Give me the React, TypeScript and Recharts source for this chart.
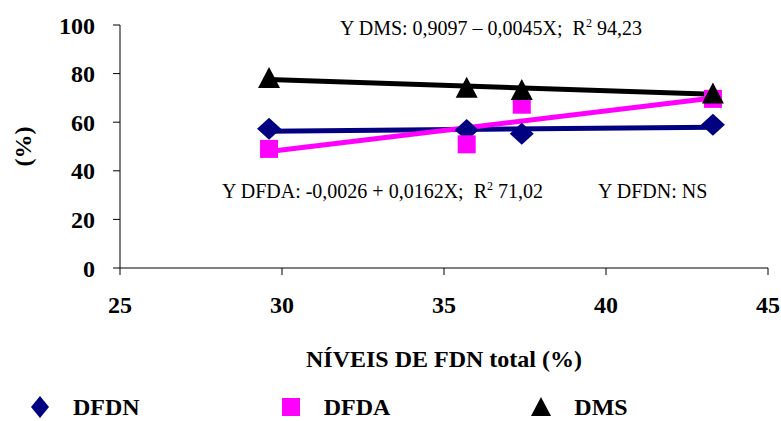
import React from "react";
import {
  ComposedChart,
  XAxis,
  YAxis,
  Line,
  Scatter,
  Legend,
} from "recharts";

// níveis de FDN total (%) dos tratamentos
const levels = [29.6, 35.7, 37.4, 43.3];
const dfdn = [57.3, 56.8, 55.2, 59.0];
const dfda = [49.0, 50.9, 67.2, 69.6];
const dms = [78.2, 74.2, 73.3, 71.8];

// extremos das retas de regressão
const trendX = [29.6, 43.3];
const dfdnTrend = [56.3, 57.9];
const dfdaTrend = [47.9, 70.0];
const dmsTrend = [77.6, 71.5];

const xTicks = [25, 30, 35, 40, 45];
const yTicks = [0, 20, 40, 60, 80, 100];

const NAVY = "#000080";
const PINK = "#FF00FF";
const BLACK = "#000000";
const FONT = "Liberation Serif";
const BIG = 24;

const pts = (ys: number[]) => levels.map((x, i) => ({ x, y: ys[i] }));
const trend = (ys: number[]) => trendX.map((x, i) => ({ x, y: ys[i] }));

function Diamond(p: any) {
  const { cx, cy } = p;
  return <polygon points={`${cx},${cy - 11} ${cx + 12},${cy} ${cx},${cy + 11} ${cx - 12},${cy}`} fill={NAVY} />;
}
function Square(p: any) {
  const { cx, cy } = p;
  return <rect x={cx - 9} y={cy - 9} width={18} height={18} fill={PINK} />;
}
function Triangle(p: any) {
  const { cx, cy } = p;
  return <polygon points={`${cx},${cy - 11} ${cx + 11},${cy + 10} ${cx - 11},${cy + 10}`} fill={BLACK} />;
}

const legendItems = [
  { name: "DFDN", color: NAVY, kind: "diamond" },
  { name: "DFDA", color: PINK, kind: "square" },
  { name: "DMS", color: BLACK, kind: "triangle" },
];

function LegendIcon({ kind, color }: { kind: string; color: string }) {
  return (
    <svg width={22} height={22} style={{ display: "block" }}>
      {kind === "diamond" && <polygon points="11,0 20,11 11,22 2,11" fill={color} />}
      {kind === "square" && <rect x={2} y={2} width={18} height={18} fill={color} />}
      {kind === "triangle" && <polygon points="11,1 21,20 1,20" fill={color} />}
    </svg>
  );
}

function CustomLegend() {
  return (
    <div style={{ display: "flex", fontFamily: FONT, fontSize: BIG, fontWeight: "bold", height: 30 }}>
      {legendItems.map((it) => (
        <div key={it.name} style={{ display: "flex", alignItems: "center", width: 262 }}>
          <LegendIcon kind={it.kind} color={it.color} />
          <span style={{ marginLeft: 22, lineHeight: "30px", whiteSpace: "nowrap" }}>{it.name}</span>
        </div>
      ))}
    </div>
  );
}

const boldText = { fill: "#000", fontFamily: FONT, fontWeight: "bold" };
const tickStyle = { fontSize: BIG, ...boldText };
const noteStyle = { fontSize: 20, fill: "#000", fontFamily: FONT, whiteSpace: "pre" as const };

export default function App() {
  return (
    <div style={{ position: "absolute", left: 0, top: 0, width: 781, height: 421, background: "#fff" }}>
      <ComposedChart width={781} height={421} margin={{ top: 25, right: 13, bottom: 13, left: 0 }}>
        <XAxis
          type="number"
          dataKey="x"
          domain={[25, 45]}
          ticks={xTicks}
          allowDataOverflow
          stroke="#000"
          tickSize={7}
          tickMargin={21}
          tick={tickStyle}
          height={110}
          label={{
            value: "NÍVEIS DE FDN total (%)",
            position: "insideBottom",
            offset: 11,
            style: { fontSize: BIG, ...boldText },
          }}
        />
        <YAxis
          type="number"
          dataKey="y"
          domain={[0, 100]}
          ticks={yTicks}
          stroke="#000"
          tickSize={7}
          tickMargin={18}
          tick={tickStyle}
          width={120}
          label={{
            value: "(%)",
            angle: -90,
            position: "insideLeft",
            offset: 22,
            style: { fontSize: BIG, ...boldText, textAnchor: "middle" },
          }}
        />
        <Legend
          verticalAlign="bottom"
          height={30}
          content={<CustomLegend />}
          wrapperStyle={{ top: 392, left: 29, bottom: "auto", width: 752 }}
        />
        <Line data={trend(dfdnTrend)} dataKey="y" stroke={NAVY} strokeWidth={5} dot={false} legendType="none" isAnimationActive={false} />
        <Scatter data={pts(dfdn)} dataKey="y" name="DFDN" shape={Diamond} isAnimationActive={false} />
        <Line data={trend(dfdaTrend)} dataKey="y" stroke={PINK} strokeWidth={5} dot={false} legendType="none" isAnimationActive={false} />
        <Scatter data={pts(dfda)} dataKey="y" name="DFDA" shape={Square} isAnimationActive={false} />
        <Line data={trend(dmsTrend)} dataKey="y" stroke={BLACK} strokeWidth={5} dot={false} legendType="none" isAnimationActive={false} />
        <Scatter data={pts(dms)} dataKey="y" name="DMS" shape={Triangle} isAnimationActive={false} />
        <text x={340} y={35} style={noteStyle}>
          Y DMS: 0,9097 – 0,0045X;  R<tspan dy={-8} fontSize={12}>2</tspan>
          <tspan dy={8}> 94,23</tspan>
        </text>
        <text x={222} y={198} style={noteStyle}>
          Y DFDA: -0,0026 + 0,0162X;  R<tspan dy={-8} fontSize={12}>2</tspan>
          <tspan dy={8}> 71,02</tspan>
        </text>
        <text x={598} y={198} style={noteStyle}>
          Y DFDN: NS
        </text>
      </ComposedChart>
    </div>
  );
}
